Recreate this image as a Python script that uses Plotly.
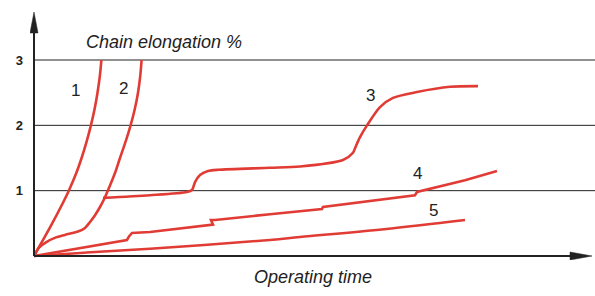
import plotly.graph_objects as go

# ---- data (x: operating time, arbitrary units; y: chain elongation %) ----
c1_x = [0, 9.2, 18.2, 26.8, 34.8, 41.8, 47.6, 52.6, 56.9, 60.6, 63.5, 65.8, 67.4]
c1_y = [0, 0.25, 0.5, 0.75, 1.0, 1.25, 1.5, 1.75, 2.0, 2.25, 2.5, 2.75, 3.0]

c2_x = [0, 5, 12, 22, 34, 44, 51, 56, 61, 66, 71, 76, 81, 86, 91.6, 96.6, 100.8, 104, 106.2, 107.6]
c2_y = [0, 0.13, 0.21, 0.285, 0.335, 0.375, 0.43, 0.52, 0.625, 0.75, 0.9, 1.08, 1.27, 1.5, 1.75, 2.0, 2.25, 2.5, 2.75, 3.0]

c3_x = [69, 116, 153, 158, 161, 166, 174, 184, 236, 266, 309, 319, 321, 326, 333, 346, 359, 383, 416, 444]
c3_y = [0.89, 0.93, 0.98, 1.01, 1.13, 1.24, 1.30, 1.32, 1.35, 1.37, 1.47, 1.58, 1.65, 1.82, 2.0, 2.28, 2.42, 2.51, 2.59, 2.60]

c4_x = [0, 93, 95, 98, 116, 179, 177, 181, 236, 266, 288, 289, 381, 383, 431, 463]
c4_y = [0, 0.245, 0.30, 0.352, 0.367, 0.48, 0.55, 0.55, 0.64, 0.68, 0.72, 0.75, 0.93, 0.98, 1.16, 1.30]

c5_x = [0, 50, 116, 236, 266, 350, 431]
c5_y = [0, 0.05, 0.11, 0.245, 0.29, 0.41, 0.55]

label_text = ["1", "2", "3", "4", "5"]
label_x = [41, 89, 336, 383, 399]
label_y = [2.54, 2.56, 2.45, 1.27, 0.69]

tick_vals = [1, 2, 3]
tick_text = ["1", "2", "3"]

RED = "#e03c35"
INK = "#222222"
PX_PER_UNIT = 65.33

fig = go.Figure()

for xs, ys, shp, sm in [(c1_x, c1_y, "spline", 1.0), (c2_x, c2_y, "spline", 0.8),
                        (c3_x, c3_y, "spline", 0.8), (c4_x, c4_y, "linear", 0),
                        (c5_x, c5_y, "spline", 1.0)]:
    fig.add_trace(go.Scatter(x=xs, y=ys, mode="lines",
                             line=dict(color=RED, width=2.6, shape=shp, smoothing=sm),
                             hoverinfo="skip", showlegend=False))

# gridlines
for v in tick_vals:
    fig.add_shape(type="line", x0=0, x1=561, y0=v, y1=v, xref="x", yref="y",
                  line=dict(color=INK, width=1), layer="below")

# axes lines
fig.add_shape(type="line", x0=0, x1=540, y0=0, y1=0, line=dict(color=INK, width=2))
fig.add_shape(type="line", x0=0, x1=0, y0=0, y1=3.45, line=dict(color=INK, width=2))
# arrow heads
hw = 4 / PX_PER_UNIT
fig.add_shape(type="path", path=f"M 536 {-hw} L 558 0 L 536 {hw} Z",
              fillcolor=INK, line=dict(color=INK, width=0.5))
ytip = 244 / PX_PER_UNIT
ybase = (244 - 21) / PX_PER_UNIT
fig.add_shape(type="path", path=f"M -4 {ybase} L 0 {ytip} L 4 {ybase} Z",
              fillcolor=INK, line=dict(color=INK, width=0.5))

for t, x, y in zip(label_text, label_x, label_y):
    fig.add_annotation(x=x, y=y, text=t, showarrow=False,
                       font=dict(family="Liberation Sans", size=17, color=INK))

fig.add_annotation(x=130, y=(256 - 42) / PX_PER_UNIT, text="<i>Chain elongation %</i>",
                   showarrow=False, font=dict(family="Liberation Sans", size=18, color=INK))
fig.add_annotation(x=279, xref="x", y=-0.113, yref="paper", text="<i>Operating time</i>",
                   showarrow=False, font=dict(family="Liberation Sans", size=18, color=INK))

fig.update_layout(
    width=595, height=296,
    margin=dict(l=30, r=0, t=0, b=36, autoexpand=False),
    paper_bgcolor="white", plot_bgcolor="white",
    xaxis=dict(range=[-4, 561], showgrid=False, zeroline=False, showticklabels=False,
               showline=False, fixedrange=True, automargin=False),
    yaxis=dict(range=[-4 / PX_PER_UNIT, 256 / PX_PER_UNIT], showgrid=False, zeroline=False,
               tickvals=tick_vals, ticktext=tick_text, showline=False, ticks="",
               ticklabelstandoff=6, automargin=False,
               tickfont=dict(family="Liberation Sans", size=13, color=INK, weight="bold"),
               fixedrange=True),
)

fig.write_html("out.html", config={"displayModeBar": False},
               post_script="document.body.style.margin='0';document.body.style.overflow='hidden';")
